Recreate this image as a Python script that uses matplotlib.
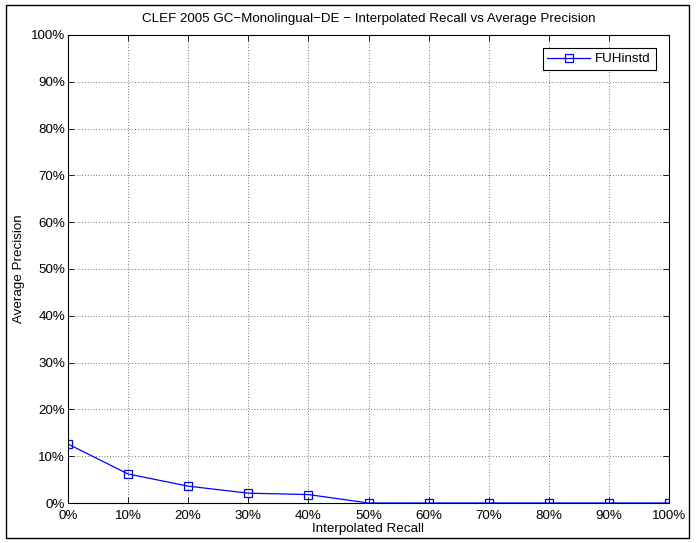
import numpy as np
import matplotlib.pyplot as plt
from matplotlib.patches import Rectangle

# Interpolated recall levels and average precision (fractions)
recall = [0.0, 0.1, 0.2, 0.3, 0.4, 0.5, 0.6, 0.7, 0.8, 0.9, 1.0]
precision = [0.126, 0.062, 0.036, 0.021, 0.018, 0.0, 0.0, 0.0, 0.0, 0.0, 0.0]
run_name = 'FUHinstd'
tick_vals = np.arange(0, 1.01, 0.1)
tick_labels = ['%d%%' % round(v * 100) for v in tick_vals]

plt.rcParams['font.family'] = ['Liberation Sans', 'DejaVu Sans']
plt.rcParams['font.size'] = 9.6

fig = plt.figure(figsize=(6.96, 5.43), dpi=100)
ax = fig.add_axes([68 / 696, 1 - 503 / 543, 601 / 696, 468 / 543])

ax.plot(recall, precision, color='blue', linewidth=0.9, marker='s', markersize=5.2,
        markerfacecolor='none', markeredgecolor='blue', markeredgewidth=0.9, label=run_name)

ax.set_xlim(0, 1)
ax.set_ylim(0, 1)
ax.set_xticks(tick_vals)
ax.set_xticklabels(tick_labels)
ax.set_yticks(tick_vals)
ax.set_yticklabels(tick_labels)
ax.tick_params(direction='in', length=4, width=0.6, top=True, right=True, colors='black')
ax.tick_params(axis='x', pad=5)
ax.tick_params(axis='y', pad=2)
ax.grid(True, linestyle=(0, (1, 3)), color='black', linewidth=0.5)
for s in ax.spines.values():
    s.set_linewidth(0.8)

ax.set_title('CLEF 2005 GC\u2212Monolingual\u2212DE \u2212 Interpolated Recall vs Average Precision',
             fontsize=9.6, pad=9)
ax.set_xlabel('Interpolated Recall', labelpad=1)
ax.set_ylabel('Average Precision', labelpad=4)

leg = ax.legend(loc='upper right', fancybox=False, framealpha=1, edgecolor='black',
                borderaxespad=1.0, handlelength=3.2, handletextpad=0.4, borderpad=0.35)
leg.get_frame().set_linewidth(0.8)

# outer frame around the figure
fig.patches.append(Rectangle((6 / 696, 5 / 543), 683 / 696, 533 / 543, transform=fig.transFigure,
                             fill=False, edgecolor='black', linewidth=1.0))

fig.savefig('out.png', dpi=100)
